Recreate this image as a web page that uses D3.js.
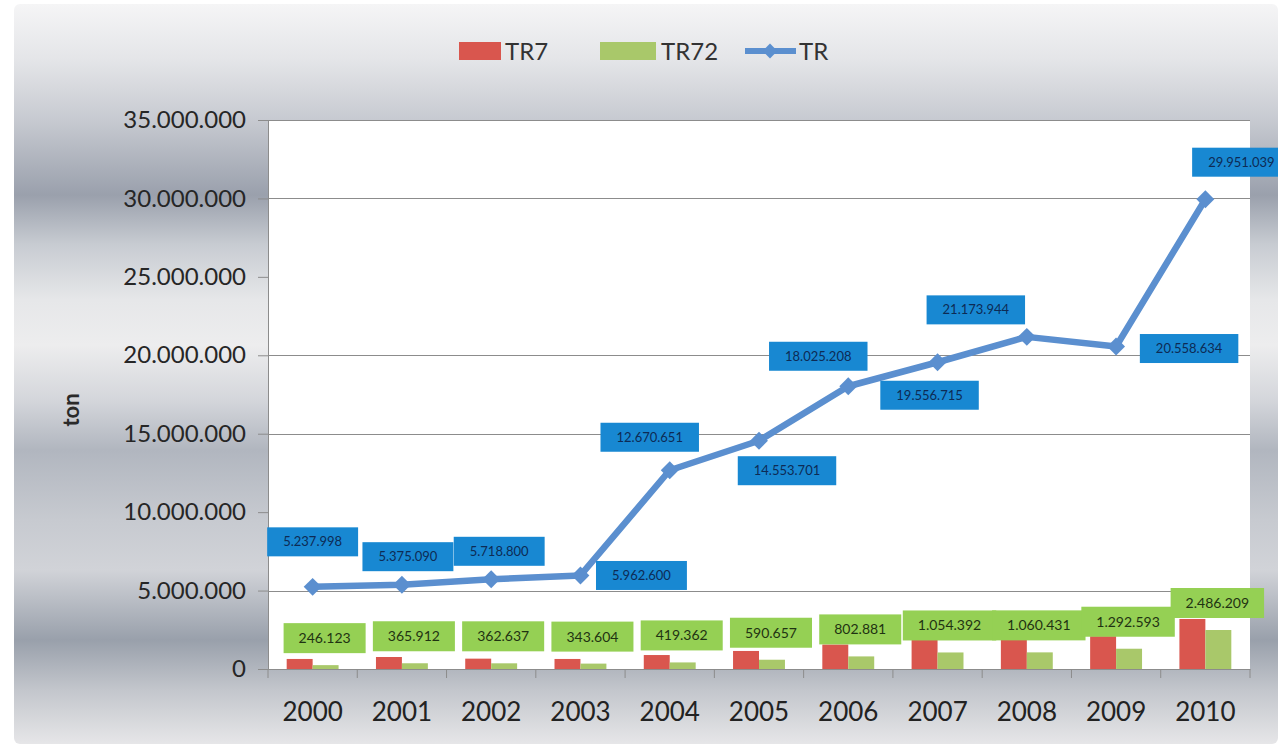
<!DOCTYPE html>
<html>
<head>
<meta charset="utf-8">
<script src="https://cdn.jsdelivr.net/npm/d3@7/dist/d3.min.js"></script>
<style>
  html, body { margin: 0; padding: 0; background: #ffffff; }
  svg { display: block; }
  text { font-family: Lato, "Open Sans", "DejaVu Sans", sans-serif; }
</style>
</head>
<body>
<svg id="chart" width="1278" height="744"></svg>
<script>
// ---- data ----
const years = ["2000", "2001", "2002", "2003", "2004", "2005", "2006", "2007", "2008", "2009", "2010"];
const tr7  = [640000, 765000, 660000, 640000, 890000, 1150000, 1560000, 1850000, 1860000, 2090000, 3190000];
const tr72 = [246123, 365912, 362637, 343604, 419362, 590657, 802881, 1054392, 1060431, 1292593, 2486209];
const tr   = [5237998, 5375090, 5718800, 5962600, 12670651, 14553701, 18025208, 19556715, 21173944, 20558634, 29951039];
const yTicks = [0, 5000000, 10000000, 15000000, 20000000, 25000000, 30000000, 35000000];
const seriesNames = ["TR7", "TR72", "TR"];

// label placement of the TR values, offset of the box centre from its point
const trLabelDx = [0, 6, 8, 61, -20, 28, -30, -8, -51, 73, 36];
const trLabelDy = [-45, -28, -28, 0, -33, 30, -30, 33, -27, 2, -37];

// ---- layout ----
const W = 1278, H = 744;
const plot = { left: 268, right: 1250, top: 120, bottom: 669 };
const colors = { tr7: "#d9564e", tr72: "#a9c86a", tr: "#5b8fcf", trBox: "#1888d2", tr72Box: "#95d054" };

const svg = d3.select("#chart");
const defs = svg.append("defs");

// metallic banded backdrop
const bg = defs.append("linearGradient").attr("id", "bgGrad")
  .attr("gradientUnits", "userSpaceOnUse").attr("x1", 0).attr("y1", 4).attr("x2", 0).attr("y2", H);
[[4, "#f5f5f6"], [60, "#e4e5e8"], [120, "#c7cad1"], [195, "#9aa0ac"], [245, "#c8ccd2"],
 [300, "#e6e7e9"], [345, "#ededee"], [400, "#d4d6db"], [450, "#b1b6bf"], [520, "#c7cad0"],
 [570, "#d1d3d8"], [640, "#99a0ab"], [690, "#c3c6cc"], [744, "#e6e6e8"]]
  .forEach(([y, c]) => bg.append("stop").attr("offset", ((y - 4) / (H - 4))).attr("stop-color", c));

svg.append("rect").attr("x", 0).attr("y", 0).attr("width", W).attr("height", H).attr("fill", "#ffffff");
svg.append("rect").attr("x", 14).attr("y", 4).attr("width", W - 14).attr("height", H - 4)
  .attr("rx", 6).attr("fill", "url(#bgGrad)");

// ---- scales ----
const x = d3.scaleBand().domain(years).range([plot.left, plot.right]).paddingInner(0).paddingOuter(0);
const xSub = d3.scaleBand().domain(["TR7", "TR72"]).range([0, x.bandwidth()]).paddingInner(0).paddingOuter(0.72);
const y = d3.scaleLinear().domain([0, 35000000]).range([plot.bottom, plot.top]);

const locale = d3.formatLocale({ decimal: ",", thousands: ".", grouping: [3], currency: ["", ""] });
const fmt = locale.format(",d");

// plot area
svg.append("rect").attr("x", plot.left).attr("y", plot.top)
  .attr("width", plot.right - plot.left).attr("height", plot.bottom - plot.top).attr("fill", "#ffffff");

// horizontal gridlines
const shownGrid = [5000000, 15000000, 20000000, 30000000, 35000000];
svg.append("g").selectAll("line").data(shownGrid).join("line")
  .attr("x1", plot.left).attr("x2", plot.right)
  .attr("y1", d => Math.round(y(d)) + 0.5).attr("y2", d => Math.round(y(d)) + 0.5)
  .attr("stroke", "#8c8c8c").attr("stroke-width", 1.2);

// y axis
const yAxis = svg.append("g").attr("transform", `translate(${plot.left},0)`)
  .call(d3.axisLeft(y).tickValues(yTicks).tickFormat(fmt).tickSize(10).tickPadding(12));
yAxis.select(".domain").attr("stroke", "#8c8c8c");
yAxis.selectAll(".tick line").attr("stroke", "#8c8c8c");
yAxis.selectAll(".tick text").attr("font-size", 24).attr("fill", "#262626")
  .attr("font-family", "Lato, 'Open Sans', sans-serif");

// axis title
svg.append("text").attr("transform", "translate(79,410) rotate(-90)")
  .attr("text-anchor", "middle").attr("font-size", 22).attr("font-weight", "bold")
  .attr("fill", "#2a2a2a").text("ton");

// x axis
const xAxis = svg.append("g").attr("transform", `translate(0,${plot.bottom})`)
  .call(d3.axisBottom(x).tickSize(0).tickPadding(34));
xAxis.select(".domain").attr("stroke", "#8c8c8c");
xAxis.selectAll(".tick text").attr("font-size", 26).attr("fill", "#222222")
  .attr("font-family", "Lato, 'Open Sans', sans-serif");
svg.append("g").selectAll("line").data(d3.range(years.length + 1)).join("line")
  .attr("x1", i => plot.left + i * x.step()).attr("x2", i => plot.left + i * x.step())
  .attr("y1", plot.bottom).attr("y2", plot.bottom + 9)
  .attr("stroke", "#8c8c8c");

// bars
const bars = svg.append("g");
bars.selectAll("rect.tr7").data(years).join("rect").attr("class", "tr7")
  .attr("x", (d) => x(d) + xSub("TR7")).attr("width", xSub.bandwidth())
  .attr("y", (d, i) => y(tr7[i])).attr("height", (d, i) => y(0) - y(tr7[i]))
  .attr("fill", colors.tr7);
bars.selectAll("rect.tr72").data(years).join("rect").attr("class", "tr72")
  .attr("x", (d) => x(d) + xSub("TR72")).attr("width", xSub.bandwidth())
  .attr("y", (d, i) => y(tr72[i])).attr("height", (d, i) => y(0) - y(tr72[i]))
  .attr("fill", colors.tr72);

// value boxes above the TR72 bars
const greenLabels = svg.append("g");
years.forEach((yr, i) => {
  const cx = x(yr) + xSub("TR72") + xSub.bandwidth() / 2 - 1;
  const bottom = y(tr72[i]) - 12;
  const g = greenLabels.append("g");
  const t = g.append("text").attr("x", cx).attr("y", bottom - 10)
    .attr("text-anchor", "middle").attr("font-size", 14).attr("fill", "#1f3312").text(fmt(tr72[i]));
  const w = t.node().getComputedTextLength() + 30;
  g.insert("rect", "text").attr("x", cx - w / 2).attr("y", bottom - 30)
    .attr("width", w).attr("height", 30).attr("fill", colors.tr72Box);
});

// TR line
const cxOf = d => x(d) + x.bandwidth() / 2;
const line = d3.line().x((d, i) => cxOf(years[i])).y(d => y(d));
svg.append("path").datum(tr).attr("d", line)
  .attr("fill", "none").attr("stroke", colors.tr).attr("stroke-width", 6.5)
  .attr("stroke-linejoin", "round");
svg.append("g").selectAll("path").data(tr).join("path")
  .attr("d", d3.symbol().type(d3.symbolSquare).size(160))
  .attr("transform", (d, i) => `translate(${cxOf(years[i])},${y(d)}) rotate(45)`)
  .attr("fill", colors.tr);

// TR value boxes
const blueLabels = svg.append("g");
tr.forEach((v, i) => {
  const cx = cxOf(years[i]) + trLabelDx[i];
  const cy = y(v) + trLabelDy[i];
  const g = blueLabels.append("g");
  const t = g.append("text").attr("x", cx).attr("y", cy + 4.5)
    .attr("text-anchor", "middle").attr("font-size", 13).attr("fill", "#0d2b55").text(fmt(v));
  const w = t.node().getComputedTextLength() + 32;
  g.insert("rect", "text").attr("x", cx - w / 2).attr("y", cy - 14.5)
    .attr("width", w).attr("height", 29).attr("fill", colors.trBox);
});

// legend
const legend = svg.append("g");
legend.append("rect").attr("x", 459).attr("y", 42).attr("width", 42).attr("height", 18).attr("fill", colors.tr7);
legend.append("text").attr("x", 505).attr("y", 60).attr("font-size", 24).attr("fill", "#333333").text(seriesNames[0]);
legend.append("rect").attr("x", 600).attr("y", 42).attr("width", 56).attr("height", 18).attr("fill", colors.tr72);
legend.append("text").attr("x", 661).attr("y", 60).attr("font-size", 24).attr("fill", "#333333").text(seriesNames[1]);
legend.append("line").attr("x1", 745).attr("x2", 796).attr("y1", 51).attr("y2", 51)
  .attr("stroke", colors.tr).attr("stroke-width", 6);
legend.append("path").attr("d", d3.symbol().type(d3.symbolSquare).size(110))
  .attr("transform", "translate(770,51) rotate(45)").attr("fill", colors.tr);
legend.append("text").attr("x", 799).attr("y", 60).attr("font-size", 24).attr("fill", "#333333").text(seriesNames[2]);
</script>
</body>
</html>
